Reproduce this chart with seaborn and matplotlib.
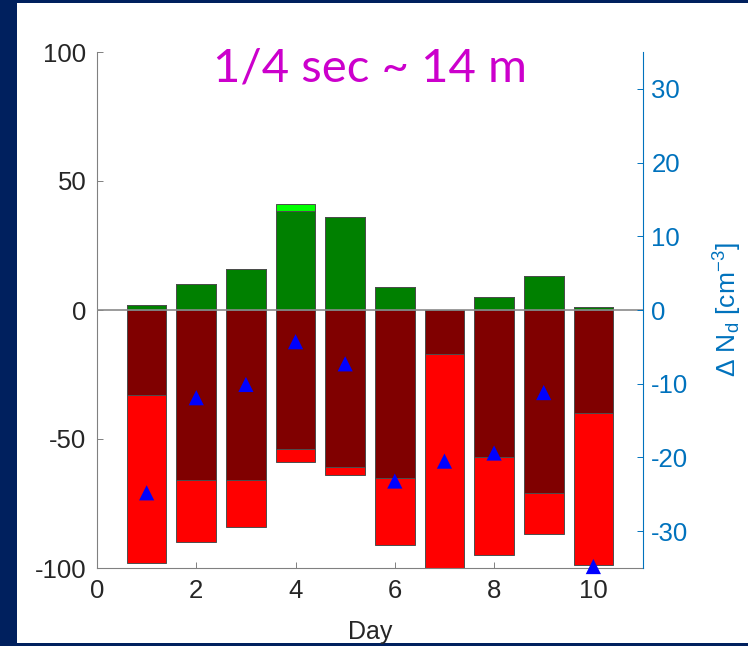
import numpy as np
import matplotlib
matplotlib.use("Agg")
import matplotlib.pyplot as plt
from matplotlib.patches import Rectangle
import seaborn as sns

# Daily contributions (left axis, %) and droplet number change (right axis)
days = [1, 2, 3, 4, 5, 6, 7, 8, 9, 10]
dark_green = [2, 10, 16, 38.5, 36, 9, 0, 5, 13, 1]
light_green = [0, 0, 0, 2.5, 0, 0, 0, 0, 0, 0]
dark_red = [-33, -66, -66, -54, -61, -65, -17, -57, -71, -40]
bright_red = [-65, -24, -18, -5, -3, -26, -83, -38, -16, -59]
delta_nd = [-24.8, -11.9, -10.1, -4.3, -7.3, -23.2, -20.5, -19.4, -11.2, -34.8]

left_ticks = [-100, -50, 0, 50, 100]
right_ticks = [-30, -20, -10, 0, 10, 20, 30]
day_ticks = [0, 2, 4, 6, 8, 10]
title_text = "1/4 sec ~ 14 m"
x_label = "Day"
right_label = "Δ N$_d$ [cm$^{-3}$]"

plt.rcParams.update({
    "font.family": ["Liberation Sans", "DejaVu Sans"],
    "axes.unicode_minus": False,
    "mathtext.default": "regular",
})

NAVY = "#00205E"
AX_GRAY = "#262626"
SPINE_GRAY = "#808080"
BLUE_AX = "#0072BD"

W, H = 748, 646
fig = plt.figure(figsize=(W / 100, H / 100), dpi=100, facecolor=NAVY)
fig.add_artist(Rectangle((17 / W, 3 / H), (W - 17) / W, 640 / H,
                         transform=fig.transFigure, facecolor="white",
                         edgecolor="none", zorder=-1))

ax = fig.add_axes([97 / W, 1 - 568 / H, 546 / W, 516 / H])
ax.set_facecolor("white")

green_total = np.add(dark_green, light_green)
red_total = np.add(dark_red, bright_red)

bar_kw = dict(native_scale=True, width=0.8, saturation=1, errorbar=None,
              edgecolor="#4d4d4d", linewidth=0.7, ax=ax)
sns.barplot(x=days, y=green_total, color="#00FF00", **bar_kw)
sns.barplot(x=days, y=dark_green, color="#008000", **bar_kw)
sns.barplot(x=days, y=red_total, color="#FF0000", **bar_kw)
sns.barplot(x=days, y=dark_red, color="#800000", **bar_kw)

ax.axhline(0, color="#8a8a8a", lw=1.2, zorder=3)

ax.set_xlim(0, 11)
ax.set_ylim(-100, 100)
ax.set_xticks(day_ticks)
ax.set_xticklabels([str(t) for t in day_ticks])
ax.set_yticks(left_ticks)
ax.set_yticklabels([str(t) for t in left_ticks])
for side in ("top", "right"):
    ax.spines[side].set_visible(False)
for side in ("left", "bottom"):
    ax.spines[side].set_color(SPINE_GRAY)
    ax.spines[side].set_linewidth(0.8)
ax.tick_params(axis="both", direction="in", length=4, width=0.7,
               color=SPINE_GRAY, labelsize=18.5, labelcolor=AX_GRAY)
ax.tick_params(axis="y", pad=7.5)
ax.tick_params(axis="x", pad=8)
ax.set_xlabel(x_label, fontsize=18, color=AX_GRAY, labelpad=12)
ax.set_ylabel("")

ax2 = ax.twinx()
sns.scatterplot(x=days, y=delta_nd, marker="^", s=120, color="#0000FF",
                edgecolor="none", linewidth=0, clip_on=False, zorder=5,
                legend=False, ax=ax2)
ax2.set_ylim(-35, 35)
ax2.set_yticks(right_ticks)
ax2.set_yticklabels([str(t) for t in right_ticks])
for side in ("top", "left", "bottom"):
    ax2.spines[side].set_visible(False)
ax2.spines["right"].set_color(BLUE_AX)
ax2.spines["right"].set_linewidth(0.8)
ax2.tick_params(axis="y", direction="in", length=4, width=0.7, color=BLUE_AX,
                labelsize=18.5, labelcolor=BLUE_AX, pad=6)
ax2.set_ylabel(right_label, fontsize=19, color=BLUE_AX, labelpad=17)
ax2.set_xlabel("")

fig.text(370 / W, 1 - 81 / H, title_text, ha="center", va="baseline",
         color="#CC00CC", fontsize=34, family=["Lato", "DejaVu Sans"])

fig.savefig("out.png", dpi=100)
